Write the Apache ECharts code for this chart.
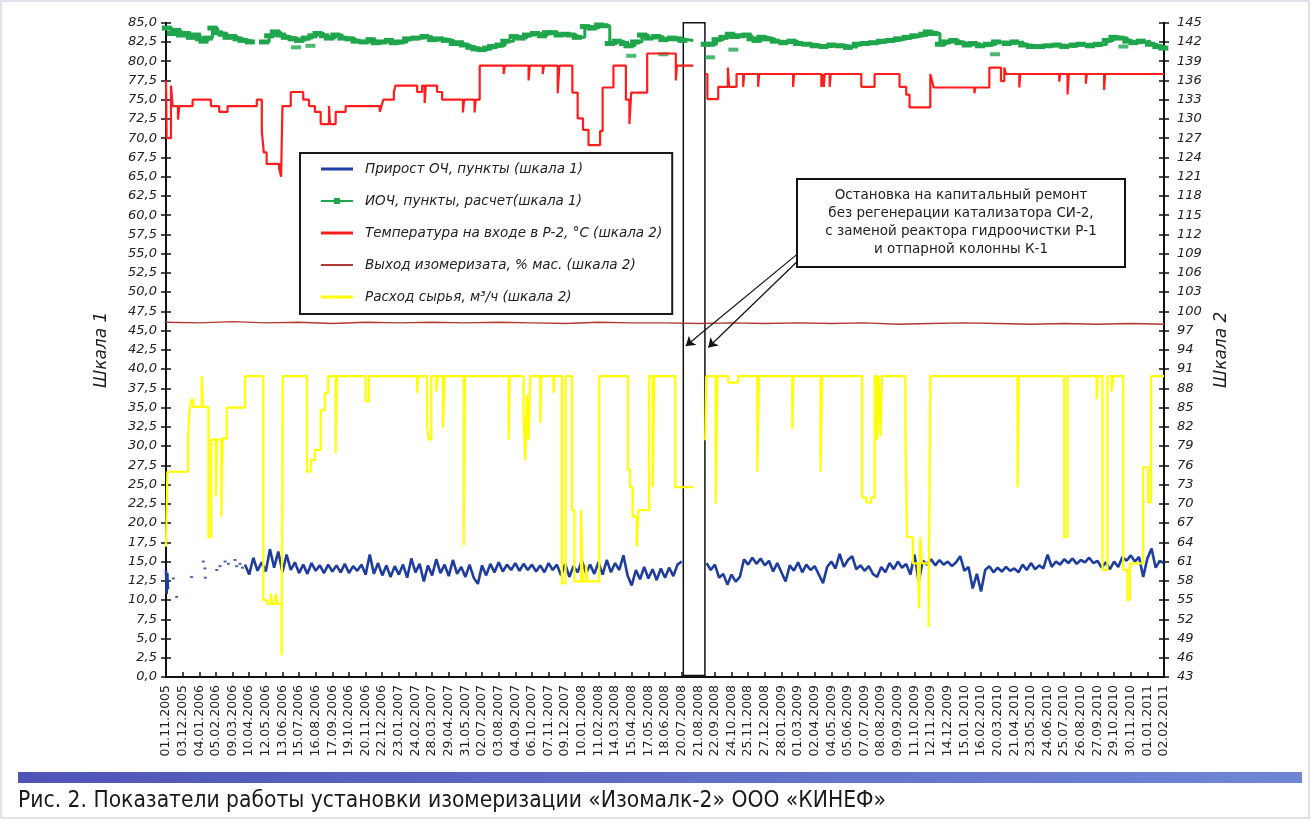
<!DOCTYPE html>
<html><head><meta charset="utf-8">
<script src="https://cdn.jsdelivr.net/npm/echarts@6/dist/echarts.min.js"></script>
<style>html,body{margin:0;padding:0;background:#fff}#c{width:1311px;height:820px}</style>
</head><body><div id="c"></div>
<script>
// ---- tick labels ----
const xLabels = ['01.11.2005','03.12.2005','04.01.2006','05.02.2006','09.03.2006','10.04.2006','12.05.2006','13.06.2006','15.07.2006','16.08.2006','17.09.2006','19.10.2006','20.11.2006','22.12.2006','23.01.2007','24.02.2007','28.03.2007','29.04.2007','31.05.2007','02.07.2007','03.08.2007','04.09.2007','06.10.2007','07.11.2007','09.12.2007','10.01.2008','11.02.2008','14.03.2008','15.04.2008','17.05.2008','18.06.2008','20.07.2008','21.08.2008','22.09.2008','24.10.2008','25.11.2008','27.12.2008','28.01.2009','01.03.2009','02.04.2009','04.05.2009','05.06.2009','07.07.2009','08.08.2009','09.09.2009','11.10.2009','12.11.2009','14.12.2009','15.01.2010','16.02.2010','20.03.2010','21.04.2010','23.05.2010','24.06.2010','25.07.2010','26.08.2010','27.09.2010','29.10.2010','30.11.2010','01.01.2011','02.02.2011'];
const rightTicks = [43,46,49,52,55,58,61,64,67,70,73,76,79,82,85,88,91,94,97,100,103,106,109,112,115,118,121,124,127,130,133,136,139,142,145];

// ---- series names ----
const names = ['Прирост ОЧ, пункты (шкала 1)','ИОЧ, пункты, расчет(шкала 1)','Температура на входе в Р-2, °С (шкала 2)','Выход изомеризата, % мас. (шкала 2)','Расход сырья, м³/ч (шкала 2)'];

// ---- Прирост ОЧ (scale 1): start bar, sparse dots, then two dense runs ----
const ochStartBar = [[0.00,13.9],[0.04,10.8],[0.08,13.5],[0.12,11.4]];
const ochDots = [[0.44,12.8],[0.64,10.4],[1.54,13.0],[2.24,15.0],[2.34,14.1],[2.36,12.9],[3.05,13.9],[3.25,14.4],[3.55,15.0],[3.75,14.7],[4.15,15.2],[4.25,14.4],[4.45,14.7],[4.60,14.2]];
const och1Start = 4.75, och2Start = 32.5, ochStep = 0.25;
const och1 = [14.6,13.3,15.5,13.8,14.9,13.7,16.6,14.2,16.3,13.6,15.9,13.9,14.9,13.5,14.6,13.4,14.8,13.8,14.5,13.5,14.6,13.7,14.5,13.6,14.7,13.5,14.4,13.8,14.6,13.3,15.9,13.4,14.8,13.2,14.5,13.0,14.4,13.3,14.6,12.9,15.4,13.6,14.7,12.4,14.5,13.2,15.3,13.5,14.6,13.1,15.2,13.4,14.3,13.0,14.6,12.9,12.1,14.5,13.2,14.7,13.6,14.9,13.7,14.6,13.9,14.8,13.8,14.7,13.9,14.6,13.7,14.5,13.6,14.8,13.9,14.6,13.2,14.7,13.0,14.4,13.6,15.1,13.5,14.6,13.4,14.9,13.3,15.2,13.6,14.8,13.9,15.8,13.2,11.9,13.9,12.7,14.3,12.8,14.0,12.6,14.1,12.9,14.2,13.1,14.6,15.0];
const och2 = [14.8,13.9,14.6,12.9,13.4,12.0,13.3,12.4,13.0,15.3,14.6,15.5,14.7,15.4,14.5,15.1,13.7,14.8,13.6,12.4,14.5,13.8,14.9,13.6,14.6,13.9,14.4,13.3,12.2,14.3,15.0,14.1,16.0,14.3,15.2,15.7,14.0,14.5,13.8,14.4,13.4,13.0,14.3,13.6,14.8,14.0,15.0,14.2,14.7,13.3,15.9,12.4,15.1,14.6,15.3,14.5,15.2,14.6,15.0,14.4,14.9,15.7,13.8,14.3,11.5,13.4,11.1,13.9,14.4,13.6,14.2,13.7,14.3,13.8,14.1,13.6,14.6,13.9,14.8,14.0,14.5,14.1,15.9,14.3,15.0,14.6,15.3,14.8,15.4,14.7,15.2,14.9,15.5,14.8,15.1,14.2,14.9,14.0,15.0,14.3,15.6,15.1,15.8,15.0,15.6,13.0,15.4,16.7,14.2,15.1,14.8];

// ---- ИОЧ расчет (scale 1) ----
const ron = [[0.05,84.3],[0.35,83.6],[0.6,84.0],[0.9,83.4],[1.18,83.6],[1.5,83.1],[1.8,83.4],[2.05,82.9],[2.25,82.6],[2.5,83.0],[2.79,84.3],[3.1,83.7],[3.4,83.5],[3.7,83.1],[3.96,83.2],[4.3,82.9],[4.6,82.7],[5.04,82.5],[5.3,null],
[5.89,82.5],[6.2,83.3],[6.54,83.8],[6.9,83.4],[7.2,83.1],[7.61,82.9],[8.0,82.7],[8.4,83.0],[8.8,83.3],[9.11,83.6],[9.5,83.3],[9.8,83.0],[10.18,83.4],[10.6,83.0],[11.04,82.9],[11.4,82.6],[11.89,82.5],[12.3,82.8],[12.6,82.4],[12.97,82.5],[13.4,82.7],[13.7,82.4],[14.04,82.5],[14.5,82.9],[15.0,83.0],[15.54,83.2],[16.0,82.8],[16.4,82.9],[16.82,82.7],[17.3,82.3],[17.6,82.4],[17.9,82.1],[18.3,81.8],[18.6,81.6],[18.97,81.5],[19.3,81.7],[19.6,81.9],[20.04,82.1],[20.4,82.6],[20.9,83.2],[21.3,83.0],[21.7,83.4],[22.18,83.6],[22.6,83.3],[22.9,83.7],[23.25,83.7],[23.6,83.4],[24.0,83.5],[24.32,83.4],[24.7,83.1],[25.18,84.5],[25.6,84.3],[26.04,84.7],[26.3,84.6],[26.68,82.3],[27.1,82.6],[27.54,82.3],[27.8,82.0],[28.2,82.5],[28.61,83.4],[29.0,83.0],[29.47,83.2],[29.9,82.8],[30.4,83.0],[30.75,82.9],[31.05,82.7],[31.7,null],
[32.45,82.2],[32.71,82.2],[33.1,82.8],[33.51,83.1],[33.9,83.5],[34.2,83.2],[34.51,83.3],[34.9,83.4],[35.2,82.9],[35.51,82.7],[35.8,83.1],[36.11,82.9],[36.6,82.6],[37.11,82.4],[37.6,82.6],[38.0,82.3],[38.52,82.2],[39.0,82.0],[39.52,81.9],[40.0,82.1],[40.52,82.0],[41.0,81.8],[41.53,82.2],[42.0,82.3],[42.52,82.4],[43.0,82.6],[43.53,82.7],[44.0,82.9],[44.53,83.1],[45.0,83.3],[45.53,83.5],[45.8,83.8],[46.13,83.6],[46.53,82.2],[46.9,82.5],[47.33,82.7],[47.7,82.4],[48.14,82.1],[48.5,82.3],[48.94,82.0],[49.4,82.2],[49.9,82.5],[50.54,82.3],[51.0,82.5],[51.54,82.1],[52.0,81.9],[52.55,81.9],[53.0,82.0],[53.55,82.1],[54.0,81.9],[54.55,82.1],[55.0,82.2],[55.55,82.0],[56.0,82.2],[56.56,82.7],[56.96,83.1],[57.3,83.0],[57.8,82.6],[58.16,82.4],[58.6,82.6],[59.16,82.2],[59.6,81.9],[59.96,81.7]];
const ronLow = [[7.82,81.8],[8.68,82.0],[27.97,80.7],[29.9,80.9],[32.71,80.5],[34.11,81.5],[49.84,80.9],[57.56,81.9]];

// ---- Температура на входе в Р-2 (scale 2) ----
const tempR2 = [[0.00,136.0],[0.04,127.0],[0.30,135.2],[0.40,132.0],[0.72,129.9],[0.80,132.0],[1.60,133.0],[2.70,132.0],[3.20,131.1],[3.70,132.0],[5.46,133.0],[5.76,128.1],[5.88,124.8],[6.05,123.0],[6.80,122.3],[6.92,121.0],[7.00,132.0],[7.50,134.2],[8.25,133.0],[8.60,132.0],[8.95,131.1],[9.30,129.2],[9.80,132.0],[9.86,129.2],[10.20,131.1],[10.80,132.0],[12.85,131.1],[12.95,132.0],[13.07,133.0],[13.70,134.2],[13.80,135.2],[15.10,134.2],[15.40,135.2],[15.55,132.5],[15.62,135.2],[16.30,134.2],[16.60,133.0],[17.85,131.0],[17.92,133.0],[18.55,131.0],[18.62,133.0],[18.86,138.3],[20.30,137.0],[20.37,138.3],[21.80,136.0],[21.87,138.3],[22.65,137.0],[22.72,138.3],[23.55,134.0],[23.65,138.3],[24.43,134.1],[24.75,130.1],[25.07,128.3],[25.40,125.9],[26.10,128.1],[26.25,134.9],[26.90,138.3],[27.65,133.0],[27.86,129.2],[27.97,134.1],[28.93,140.2],[30.65,136.0],[30.72,138.3],[31.10,138.3],[31.7,null],
[32.42,137.0],[32.55,133.1],[33.20,135.0],[33.78,138.0],[33.85,135.0],[34.30,137.0],[34.70,135.0],[34.76,137.0],[35.60,135.0],[35.66,137.0],[37.70,135.0],[37.76,137.0],[39.40,135.0],[39.46,137.0],[39.55,135.0],[39.60,137.0],[39.90,135.0],[39.96,137.0],[41.80,135.0],[42.60,137.0],[44.10,135.0],[44.50,133.8],[44.70,131.8],[45.95,137.0],[46.05,136.0],[46.15,134.9],[48.60,134.0],[48.66,134.9],[49.50,138.0],[50.20,135.9],[50.40,138.0],[50.50,137.0],[51.30,134.9],[51.36,137.0],[53.70,135.8],[53.76,137.0],[54.20,133.8],[54.28,137.0],[55.30,135.5],[55.36,137.0],[56.40,134.5],[56.46,137.0],[60.00,137.0]];

// ---- Выход изомеризата (scale 2) ----
const yieldIso = [[0,98.3],[2,98.2],[4,98.4],[6,98.2],[8,98.3],[10,98.1],[12,98.3],[14,98.2],[16,98.3],[18,98.2],[20,98.3],[22,98.2],[24,98.1],[26,98.3],[28,98.2],[30,98.2],[32,98.1],[34,98.2],[36,98.1],[38,98.2],[40,98.1],[42,98.2],[44,98.0],[46,98.1],[48,98.2],[50,98.1],[52,98.0],[54,98.1],[56,98.0],[58,98.1],[60,98.0]];

// ---- Расход сырья (scale 2) ----
const feedRate = [[0.00,63.3],[0.08,75.0],[1.32,80.0],[1.40,84.0],[1.50,86.2],[1.65,85.1],[2.15,89.9],[2.22,85.1],[2.55,64.8],[2.72,80.0],[3.00,71.1],[3.06,80.0],[3.33,68.0],[3.40,80.2],[3.65,85.0],[4.75,89.9],[5.85,55.0],[6.10,54.4],[6.30,56.0],[6.40,54.4],[6.60,56.0],[6.70,54.4],[6.95,46.4],[7.02,89.9],[8.47,75.0],[8.70,76.8],[8.95,78.4],[9.30,84.6],[9.55,87.3],[9.75,89.9],[10.20,77.9],[10.27,89.9],[12.00,86.0],[12.20,89.9],[15.10,87.3],[15.16,89.9],[15.70,82.0],[15.80,80.0],[15.95,89.9],[16.25,87.5],[16.35,89.9],[16.65,81.8],[16.75,89.9],[17.90,63.5],[17.97,89.9],[20.60,80.0],[20.67,89.9],[21.50,84.0],[21.60,76.8],[21.70,87.0],[21.80,80.0],[21.90,89.9],[22.50,82.6],[22.56,89.9],[23.30,87.3],[23.36,89.9],[23.80,57.6],[24.02,89.9],[24.40,69.0],[24.55,57.9],[24.95,69.0],[25.05,57.9],[25.25,60.5],[25.35,57.9],[26.05,89.9],[27.77,75.3],[27.90,72.6],[28.05,68.0],[28.30,63.3],[28.40,69.0],[29.05,89.9],[29.27,72.6],[29.35,89.9],[30.62,72.6],[31.10,72.6],[31.7,null],
[32.42,79.9],[32.48,89.9],[33.05,70.0],[33.15,89.9],[33.80,88.9],[34.40,89.9],[35.55,75.0],[35.65,89.9],[37.65,81.7],[37.72,89.9],[39.35,75.0],[39.45,89.9],[41.85,71.0],[42.10,70.2],[42.40,71.0],[42.60,89.9],[42.75,79.9],[42.85,89.9],[42.95,80.5],[43.05,89.9],[44.45,82.0],[44.55,64.8],[44.90,60.7],[45.20,60.0],[45.28,53.7],[45.35,64.8],[45.45,60.7],[45.85,50.8],[45.95,89.9],[51.20,72.6],[51.27,89.9],[54.00,64.8],[54.20,89.9],[55.95,86.3],[56.02,89.9],[56.30,59.7],[56.60,89.9],[56.85,87.5],[56.95,89.9],[57.55,59.7],[57.80,55.0],[57.95,60.7],[58.75,75.7],[59.05,70.2],[59.22,89.9],[60.00,89.9]];

// ---- outage (shutdown) interval and annotation ----
const outage = [31.1, 32.4];
const noteText = 'Остановка на капитальный ремонт\nбез регенерации катализатора СИ-2,\nс заменой реактора гидроочистки Р-1\nи отпарной колонны К-1';
const arrows = [[[38.1,55.2],[31.25,43.0]],[[38.2,54.5],[32.6,42.8]]];
const caption = 'Рис. 2. Показатели работы установки изомеризации «Изомалк-2» ООО «КИНЕФ»';

// ---- build ----
const ochData = ochStartBar.slice();
ochData.push([0.3, null]);
och1.forEach((v, i) => ochData.push([och1Start + i * ochStep, v]));
ochData.push([31.7, null]);
och2.forEach((v, i) => ochData.push([och2Start + i * ochStep, v]));

const FF = 'DejaVu Sans';
const C = { blue:'#1f3d9e', green:'#1fa64d', red:'#ff1c1c', brown:'#b03a36', yellow:'#ffff00' };
const lineIcon = 'path://M0,0H32V3H0Z';
const thinIcon = 'path://M0,0H32V2H0Z';
const dashIcon = 'path://M0,2H13V0H19V2H32V4H19V6H13V4H0Z';

const chart = echarts.init(document.getElementById('c'), null, {renderer:'canvas'});
chart.setOption({
  animation: false,
  backgroundColor: '#fff',
  grid: { left: 166, right: 147, top: 22.7, bottom: 143, outerBoundsMode: 'none' },
  legend: {
    data: [
      { name: names[0], icon: lineIcon },
      { name: names[1], icon: dashIcon },
      { name: names[2], icon: lineIcon },
      { name: names[3], icon: thinIcon },
      { name: names[4], icon: lineIcon }
    ],
    orient: 'vertical', left: 300, top: 153,
    itemWidth: 32, itemHeight: 12, itemGap: 18,
    padding: [9, 10, 10, 21],
    borderColor: '#1a1a1a', borderWidth: 2, backgroundColor: '#fff',
    textStyle: { fontFamily: FF, fontStyle: 'italic', fontSize: 13.5, color: '#222', width: 296, padding: [0,0,0,7] },
    z: 10
  },
  xAxis: {
    type: 'value', min: 0, max: 60, interval: 1,
    axisLine: { onZero: false, lineStyle: { color: '#111', width: 2 } },
    axisTick: { inside: true, length: 5, lineStyle: { color: '#111', width: 1.5 } },
    axisLabel: { rotate: 90, margin: 8, fontFamily: FF, fontSize: 12.5, color: '#222',
      formatter: v => xLabels[Math.round(v)] || '' },
    splitLine: { show: false }
  },
  yAxis: [
    { type: 'value', position: 'left', min: 0, max: 85, interval: 2.5,
      name: 'Шкала 1', nameLocation: 'middle', nameRotate: 90, nameGap: 56,
      nameTextStyle: { fontFamily: FF, fontStyle: 'italic', fontSize: 17, color: '#222' },
      axisLine: { show: true, onZero: false, lineStyle: { color: '#111', width: 2 } },
      axisTick: { show: true, length: 5, lineStyle: { color: '#111', width: 1.5 } },
      axisLabel: { margin: 9, fontFamily: FF, fontStyle: 'italic', fontSize: 13, color: '#222',
        formatter: v => v.toFixed(1).replace('.', ',') },
      splitLine: { show: false } },
    { type: 'value', position: 'right', min: 43, max: 145,
      name: 'Шкала 2', nameLocation: 'middle', nameRotate: 90, nameGap: 46,
      nameTextStyle: { fontFamily: FF, fontStyle: 'italic', fontSize: 17, color: '#222' },
      axisLine: { show: true, onZero: false, lineStyle: { color: '#111', width: 2 } },
      axisTick: { show: true, length: 5, customValues: rightTicks, lineStyle: { color: '#111', width: 1.5 } },
      axisLabel: { margin: 13, customValues: rightTicks, fontFamily: FF, fontStyle: 'italic', fontSize: 13, color: '#222' },
      splitLine: { show: false } },
    { type: 'value', position: 'left', min: 0, max: 85, interval: 2.5,
      axisLine: { show: false }, axisLabel: { show: false }, splitLine: { show: false },
      axisTick: { show: true, inside: true, length: 5, lineStyle: { color: '#111', width: 1.5 } } },
    { type: 'value', position: 'right', min: 43, max: 145,
      axisLine: { show: false }, axisLabel: { show: false }, splitLine: { show: false },
      axisTick: { show: true, inside: true, length: 5, customValues: rightTicks, lineStyle: { color: '#111', width: 1.5 } } }
  ],
  series: [
    { name: names[0], type: 'line', yAxisIndex: 0, data: ochData, symbol: 'none',
      lineStyle: { color: C.blue, width: 2.6 }, itemStyle: { color: C.blue }, z: 3 },
    { type: 'scatter', yAxisIndex: 0, data: ochDots, symbol: 'rect', symbolSize: [3, 2],
      itemStyle: { color: C.blue }, z: 3 },
    { name: names[3], type: 'line', yAxisIndex: 1, data: yieldIso, symbol: 'none',
      lineStyle: { color: C.brown, width: 1.4 }, itemStyle: { color: C.brown }, z: 3 },
    { name: names[1], type: 'line', yAxisIndex: 0, data: ron, step: 'end', symbol: 'rect', symbolSize: [10, 5], showSymbol: true,
      lineStyle: { color: C.green, width: 3 }, itemStyle: { color: C.green }, z: 3 },
    { type: 'scatter', yAxisIndex: 0, data: ronLow, symbol: 'rect', symbolSize: [10, 4],
      itemStyle: { color: C.green }, z: 3 },
    { name: names[2], type: 'line', yAxisIndex: 1, data: tempR2, step: 'end', symbol: 'none',
      lineStyle: { color: C.red, width: 2.2 }, itemStyle: { color: C.red }, z: 4 },
    { name: names[4], type: 'line', yAxisIndex: 1, data: feedRate, step: 'end', symbol: 'none',
      lineStyle: { color: C.yellow, width: 2.2 }, itemStyle: { color: C.yellow }, z: 4 },
    { type: 'line', yAxisIndex: 0, data: [], z: 6, silent: true,
      markArea: { silent: true, label: { show: false },
        itemStyle: { color: '#fff', borderColor: '#111', borderWidth: 1.5 },
        data: [[{ xAxis: outage[0], yAxis: 85 }, { xAxis: outage[1], yAxis: 0.2 }]] } },
    { type: 'line', yAxisIndex: 0, data: [], z: 7, silent: true,
      markLine: { silent: true, symbol: ['none', 'arrow'], symbolSize: 9, label: { show: false },
        lineStyle: { color: '#111', width: 1.2, type: 'solid' },
        data: arrows.map(a => [{ coord: a[0] }, { coord: a[1] }]) } }
  ],
  graphic: [
    { type: 'rect', shape: { x: 1, y: 1, width: 1308, height: 817 }, style: { fill: null, stroke: '#d5d9e4', lineWidth: 1.5 }, z: -1, silent: true },
    { type: 'rect', shape: { x: 797, y: 179, width: 328, height: 88 }, style: { fill: '#fff', stroke: '#111', lineWidth: 2 }, z: 20 },
    { type: 'text', x: 961, y: 186, style: { text: noteText, fill: '#222', font: '13.5px "DejaVu Sans"', textAlign: 'center', textVerticalAlign: 'top', lineHeight: 18 }, z: 21 },
    { type: 'rect', shape: { x: 18, y: 772, width: 1284, height: 11 },
      style: { fill: new echarts.graphic.LinearGradient(0, 0, 1, 0, [{ offset: 0, color: '#4f54b6' }, { offset: 1, color: '#6f86d6' }]) }, z: 20 },
    { type: 'text', x: 18, y: 801, style: { text: caption, fill: '#1a1a1a', font: '22.6px "DejaVu Sans Condensed", "Liberation Sans Narrow", "DejaVu Sans"', textVerticalAlign: 'middle' }, z: 20 }
  ]
});
</script></body></html>
